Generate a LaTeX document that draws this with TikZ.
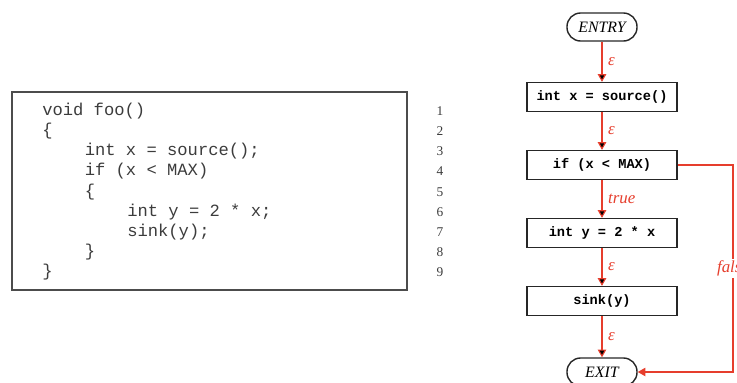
\documentclass[tikz,border=0pt]{standalone}
\usepackage{fontspec}
\setmainfont{Liberation Serif}
\setmonofont{Liberation Mono}
\usetikzlibrary{arrows.meta}
\definecolor{flowred}{RGB}{230,62,45}
\definecolor{codegray}{RGB}{60,60,60}
\tikzset{
  stmt node/.style={draw=black!85, line width=1pt, minimum width=3.75cm, minimum height=0.72cm,
    inner sep=0pt, font=\fontsize{9.7}{11}\selectfont\ttfamily\bfseries},
  term node/.style={draw=black!85, line width=1pt, rounded corners=0.34cm, minimum width=1.75cm,
    minimum height=0.7cm, inner sep=0pt, font=\fontsize{11.3}{13}\selectfont\itshape},
  flow/.style={draw=flowred, line width=0.8pt, -{Triangle[length=5.5pt,width=6pt]}},
  flow label/.style={font=\fontsize{12}{14}\selectfont\itshape, text=flowred, inner sep=2pt},
  code line/.style={anchor=base west, inner sep=0pt, text=codegray, font=\fontsize{12.2}{14}\selectfont\ttfamily},
  line num/.style={anchor=base, inner sep=0pt, text=codegray, font=\fontsize{9.5}{11}\selectfont}
}
\begin{document}
\begin{tikzpicture}[x=0.025cm, y=-0.025cm]
\useasboundingbox (0,0) rectangle (737,382);
% source listing
\node [draw=black!70, line width=0.8pt, minimum width=9.875cm, minimum height=4.95cm, inner sep=0pt]
  (listing) at (209.5,191) {};
\foreach \n/\ind/\txt in {1/0/void foo(), 2/0/\{, 3/1/int x = source();, 4/1/if (x < MAX),
    5/1/\{, 6/2/int y = 2 * x;, 7/2/sink(y);, 8/1/\}, 9/0/\}}
{
  \node [code line] (c\n) at ({42+42.5*\ind}, {95+20.2*\n}) {\txt};
  \node [line num] (l\n) at (440, {95+20.2*\n}) {\n};
}
% control flow graph
\node [term node] (entry) at (602,27) {ENTRY};
\node [stmt node] (srcx) at (602,97) {int x = source()};
\node [stmt node] (ifx) at (602,165) {if (x < MAX)};
\node [stmt node] (mul) at (602,233) {int y = 2 * x};
\node [stmt node] (sink) at (602,301) {sink(y)};
\node [term node] (exit) at (602,372) {EXIT};
\coordinate (fc) at (733,165);
\path [flow]
  (entry) edge node [flow label, right, xshift=2pt] {ε} (srcx)
  (srcx) edge node [flow label, right, xshift=2pt] {ε} (ifx)
  (ifx) edge node [flow label, right, xshift=2pt] {true} (mul)
  (mul) edge node [flow label, right, xshift=2pt] {ε} (sink)
  (sink) edge node [flow label, right, xshift=2pt] {ε} (exit);
\draw [flow] (ifx) -- (fc) |- node [flow label, pos=0.25, fill=white, inner sep=1pt] {false} (exit);
\end{tikzpicture}
\end{document}
